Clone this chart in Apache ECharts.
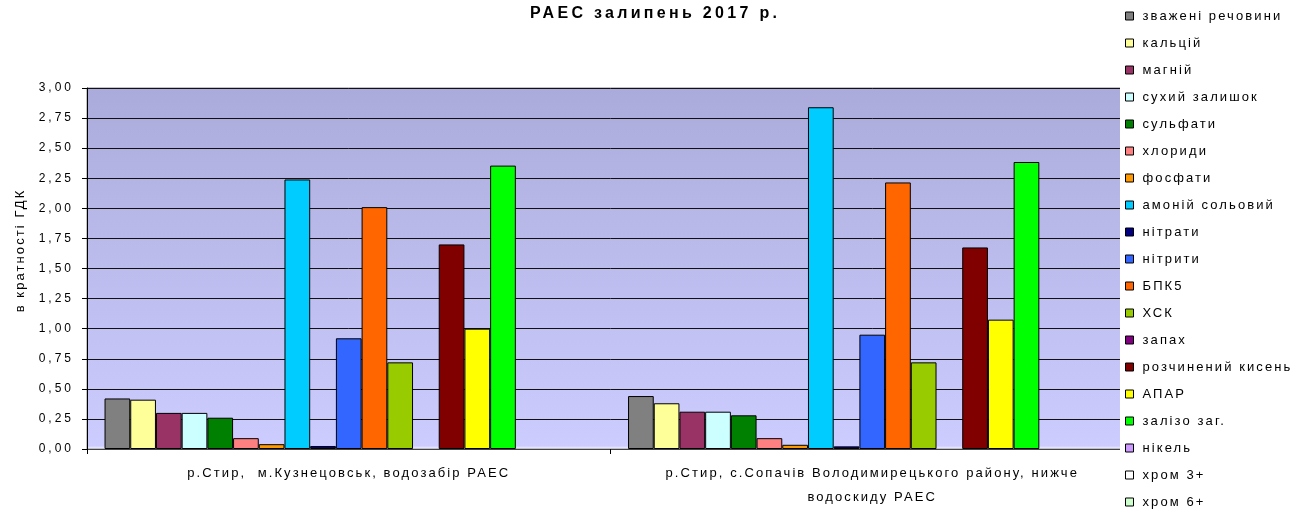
<!DOCTYPE html>
<html>
<head>
<meta charset="utf-8">
<script src="https://cdn.jsdelivr.net/npm/echarts@6/dist/echarts.min.js"></script>
<style>
  html, body { margin: 0; padding: 0; background: #fff; }
  #chart { width: 1308px; height: 515px; }
</style>
</head>
<body>
<div id="chart"></div>
<script>
const titleText = "РАЕС залипень 2017 р.";
const yAxisName = "в кратності ГДК";

const categories = [
  "р.Стир,  м.Кузнецовськ, водозабір РАЕС",
  "р.Стир, с.Сопачів Володимирецького району, нижче\nводоскиду РАЕС"
];

const seriesNames = [
  "зважені речовини", "кальцій", "магній", "сухий залишок", "сульфати",
  "хлориди", "фосфати", "амоній сольовий", "нітрати", "нітрити", "БПК5",
  "ХСК", "запах", "розчинений кисень", "АПАР", "залізо заг.", "нікель",
  "хром 3+", "хром 6+"
];

const seriesColors = [
  "#808080", "#FFFF99", "#993366", "#CCFFFF", "#008000",
  "#FF8080", "#FF9900", "#00CCFF", "#000080", "#3366FF", "#FF6600",
  "#99CC00", "#800080", "#800000", "#FFFF00", "#00FF00", "#CC99FF",
  "#FFFFFF", "#CCFFCC"
];

// values per site, same order as seriesNames (null = no bar drawn)
const kuznetsovskValues = [
  0.42, 0.41, 0.30, 0.30, 0.26, 0.09, 0.04, 2.24, 0.025, 0.92, 2.01,
  0.72, null, 1.70, 1.00, 2.355, null, null, null
];
const sopachivValues = [
  0.44, 0.38, 0.31, 0.31, 0.28, 0.09, 0.035, 2.84, 0.022, 0.95, 2.215,
  0.72, null, 1.675, 1.075, 2.385, null, null, null
];

const yMin = 0;
const yMax = 3;
const yStep = 0.25;

// the original chart was drawn with wide letter spacing
const baseFillText = CanvasRenderingContext2D.prototype.fillText;
CanvasRenderingContext2D.prototype.fillText = function (...args) {
  const font = this.font || "";
  const size = parseFloat((font.match(/(\d+(?:\.\d+)?)px/) || [0, 13])[1]);
  this.letterSpacing = /bold/.test(font) ? "3.3px" : size <= 12 ? "3px" : "2.1px";
  return baseFillText.apply(this, args);
};

const fontFamily = "'Liberation Sans', Arial, sans-serif";

const chart = echarts.init(document.getElementById("chart"), null, { renderer: "canvas" });

const series = seriesNames.map((name, i) => ({
  name,
  type: "bar",
  data: [kuznetsovskValues[i], sopachivValues[i]],
  barGap: "0%",
  barCategoryGap: "6.7%",
  itemStyle: {
    color: seriesColors[i],
    borderColor: "#000",
    borderWidth: 1
  },
  emphasis: { disabled: true }
}));

chart.setOption({
  animation: false,
  textStyle: { fontFamily },
  title: {
    text: titleText,
    left: 530,
    top: 6,
    padding: 0,
    textStyle: { fontFamily, fontSize: 16, fontWeight: "bold", color: "#000" }
  },
  legend: {
    orient: "vertical",
    left: 1120,
    top: 0,
    padding: [8, 40, 0, 5],
    backgroundColor: "#fff",
    itemWidth: 8,
    itemHeight: 8,
    itemGap: 11,
    icon: "rect",
    selectedMode: false,
    data: seriesNames,
    itemStyle: { borderColor: "#000", borderWidth: 1 },
    textStyle: { fontFamily, fontSize: 13, lineHeight: 16, color: "#000", padding: [0, 0, 0, 4] }
  },
  grid: {
    left: 87,
    right: 174,
    top: 88,
    bottom: 66,
    show: true,
    borderColor: "#888",
    borderWidth: 1,
    backgroundColor: new echarts.graphic.LinearGradient(0, 0, 0, 1, [
      { offset: 0, color: "#ABABDB" },
      { offset: 0.99, color: "#CCCCFF" },
      { offset: 1, color: "#FFFFFF" }
    ])
  },
  xAxis: {
    type: "category",
    data: categories,
    axisLine: { lineStyle: { color: "#444", width: 1 } },
    axisTick: { show: true, length: 5, lineStyle: { color: "#000" } },
    axisLabel: {
      fontFamily,
      fontSize: 13,
      lineHeight: 24,
      color: "#000",
      margin: 12,
      interval: 0
    }
  },
  yAxis: {
    type: "value",
    min: yMin,
    max: yMax,
    interval: yStep,
    name: yAxisName,
    nameLocation: "middle",
    nameGap: 60,
    nameTextStyle: { fontFamily, fontSize: 13, color: "#000", padding: [0, 0, 0, 36] },
    axisLine: { show: true, lineStyle: { color: "#000", width: 1 } },
    axisTick: { show: true, inside: false, length: 5, lineStyle: { color: "#000" } },
    axisLabel: {
      fontFamily,
      fontSize: 12,
      color: "#000",
      margin: 13,
      formatter: (v) => v.toFixed(2).replace(".", ",")
    },
    splitLine: { show: true, lineStyle: { color: "#111", width: 1 } }
  },
  series
});
</script>
</body>
</html>
